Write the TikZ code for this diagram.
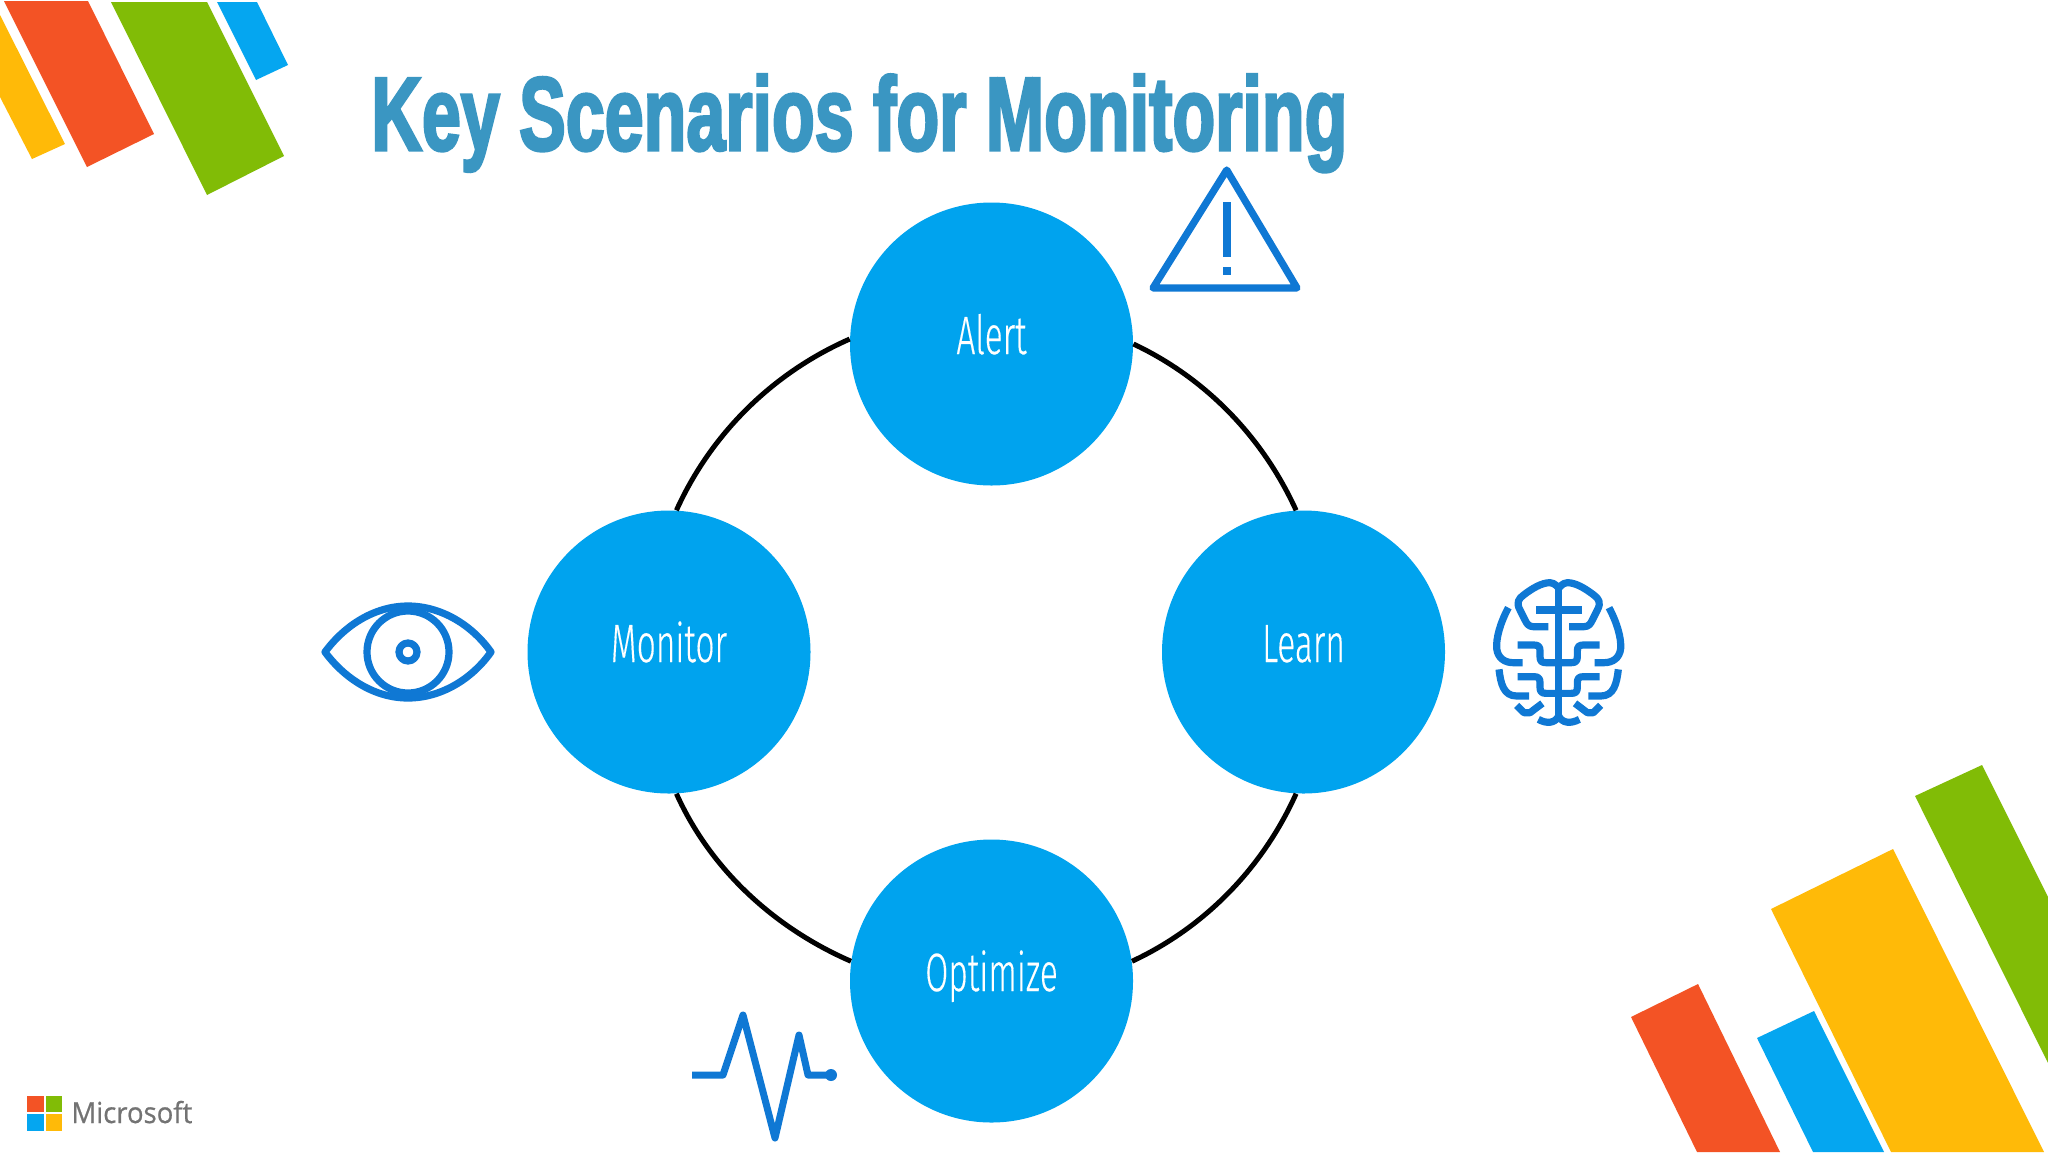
\documentclass[tikz,border=0pt]{standalone}
\usepackage{fontspec}
\usepackage{graphicx}
\setmainfont{Liberation Sans}
\newfontfamily\titlefont[BoldFeatures={FakeBold=3.2}]{Liberation Sans}
\newfontfamily\labelfont[UprightFont={* Light},UprightFeatures={FakeBold=0.35}]{Fira Sans}
\newfontfamily\logofont[FakeBold=0.7]{Open Sans}
\newcommand\stagetext[1]{\scalebox{0.62}[1]{#1}}
\definecolor{msred}{HTML}{F35325}
\definecolor{msgreen}{HTML}{81BC06}
\definecolor{msblue}{HTML}{05A6F0}
\definecolor{msyellow}{HTML}{FFBA08}
\definecolor{circleblue}{HTML}{00A3EE}
\definecolor{iconblue}{HTML}{0F78D4}
\definecolor{titleblue}{HTML}{3A96C2}
\definecolor{logogrey}{HTML}{737373}
\tikzset{
  stage/.style={circle,fill=circleblue,minimum size=141.5pt,inner sep=0pt,text=white,text height=20pt,text depth=10pt,font=\labelfont\fontsize{27}{27}\selectfont},
  ringarc/.style={draw=black,line width=2.5pt,looseness=0.88},
  icon/.style={draw=iconblue,line width=3.6pt,line join=round,line cap=round},
  iconfine/.style={draw=iconblue,line width=3.5pt,line join=round,line cap=butt},
}
\begin{document}
\begin{tikzpicture}[x=0.5pt,y=-0.5pt]
\useasboundingbox (0,0) rectangle (2048,1152);
\fill[white] (0,0) rectangle (2048,1152);
% top-left bars
\fill[msyellow] (0,15) -- (65,144) -- (32,159) -- (0,97) -- cycle;
\fill[msred] (4,1) -- (88,1) -- (154,134) -- (87,167) -- cycle;
\fill[msgreen] (111,2) -- (207,2) -- (284,156) -- (207,195) -- cycle;
\fill[msblue] (217,2) -- (257,2) -- (288,65) -- (256,80) -- cycle;
% bottom-right bars
\fill[msred] (1631,1017) -- (1698,984) -- (1780,1152) -- (1697,1152) -- cycle;
\fill[msblue] (1757,1038) -- (1814,1011) -- (1884,1152) -- (1813,1152) -- cycle;
\fill[msyellow] (1771,909) -- (1893,849) -- (2044,1152) -- (1891,1152) -- cycle;
\fill[msgreen] (1915,796) -- (1982,765) -- (2048,897) -- (2048,1063) -- cycle;
% title
\node[anchor=base west,inner sep=0pt,text=titleblue] (title) at (371,150)
  {\resizebox{488pt}{\height}{\titlefont\bfseries\fontsize{52}{52}\selectfont Key Scenarios for Monitoring}};
% stages
\node[stage] (alert) at (991.5,344) {\stagetext{Alert}};
\node[stage] (monitor) at (669,652) {\stagetext{Monitor}};
\node[stage] (learn) at (1303.5,652) {\stagetext{Learn}};
\node[stage] (optimize) at (991.5,981) {\stagetext{Optimize}};
% ring
\draw[ringarc] (alert.east) to[out=-25.2,in=114.5] (learn.93);
\draw[ringarc] (alert.178) to[out=203.7,in=65.7] (monitor.87);
\draw[ringarc] (optimize.8.5) to[out=25,in=245.8] (learn.267);
\draw[ringarc] (optimize.172.5) to[out=156.5,in=-65.8] (monitor.273);
% warning icon
\draw[icon] (1226.7,170) -- (1153,288) -- (1297,288) -- cycle;
\fill[iconblue] (1223.3,202) rectangle (1231,257);
\fill[iconblue] (1223.3,267) rectangle (1231,275);
% eye icon
\draw[icon] (325,652) .. controls (345,625) and (375,606) .. (408,606) .. controls (441,606) and (472,625) .. (491,652) .. controls (472,679) and (441,698) .. (408,698) .. controls (375,698) and (345,679) .. (325,652) -- cycle;
\draw[icon] (408,652) circle[radius=41];
\draw[icon] (408,652) circle[radius=9];
% pulse icon
\draw[iconfine] (692,1075) -- (723,1075) -- (743,1015) -- (775,1138) -- (799,1035) -- (808,1075) -- (831,1075);
\fill[iconblue] (831,1075) circle[radius=6];
% brain icon
\begin{scope}[shift={(1450,560)},x=0.16667pt,y=-0.16667pt,icon,line cap=butt]
\draw (295,200) -- (250,200) .. controls (235,200) and (230,190) .. (225,180) -- (210,150) .. controls (198,128) and (205,116) .. (222,104) .. controls (247,85) and (275,68) .. (300,68) .. controls (315,68) and (326,85) .. (326,85) .. controls (326,85) and (337,68) .. (352,68) .. controls (377,68) and (405,85) .. (430,104) .. controls (447,116) and (454,128) .. (442,150) -- (427,180) .. controls (422,190) and (417,200) .. (402,200) -- (357,200);
\draw (258,150) -- (395,150);
\draw (326,85) -- (326,470);
\draw (203,255) -- (252,255) .. controls (265,255) and (270,260) .. (270,273) -- (270,290) .. controls (270,303) and (275,308) .. (288,308) -- (364,308) .. controls (377,308) and (382,303) .. (382,290) -- (382,273) .. controls (382,260) and (387,255) .. (400,255) -- (449,255);
\draw (203,350) -- (252,350) .. controls (265,350) and (270,355) .. (270,368) -- (270,382) .. controls (270,395) and (275,400) .. (288,400) -- (364,400) .. controls (377,400) and (382,395) .. (382,382) -- (382,368) .. controls (382,355) and (387,350) .. (400,350) -- (449,350);
\draw (175,143) .. controls (150,190) and (138,235) .. (140,265) .. controls (143,295) and (165,308) .. (190,308) -- (218,308);
\draw (477,143) .. controls (502,190) and (514,235) .. (512,265) .. controls (509,295) and (487,308) .. (462,308) -- (434,308);
\draw (147,328) .. controls (152,370) and (160,408) .. (200,408) -- (237,408);
\draw (505,328) .. controls (500,370) and (492,408) .. (452,408) -- (415,408);
\draw (200,436) -- (222,458) -- (240,458) -- (277,430);
\draw (452,436) -- (430,458) -- (412,458) -- (375,430);
\draw (265,478) .. controls (290,492) and (315,490) .. (326,468) .. controls (337,490) and (362,492) .. (388,478);
\end{scope}
% logo
\fill[msred] (27,1096) rectangle (44,1112);
\fill[msgreen] (46,1096) rectangle (62,1112);
\fill[msblue] (27,1114) rectangle (44,1131);
\fill[msyellow] (46,1114) rectangle (62,1131);
\node[anchor=base west,inner sep=0pt,text=logogrey] (logo) at (71,1123) {\resizebox{60.5pt}{\height}{\logofont\fontsize{14.5}{14.5}\selectfont Microsoft}};
\end{tikzpicture}
\end{document}
